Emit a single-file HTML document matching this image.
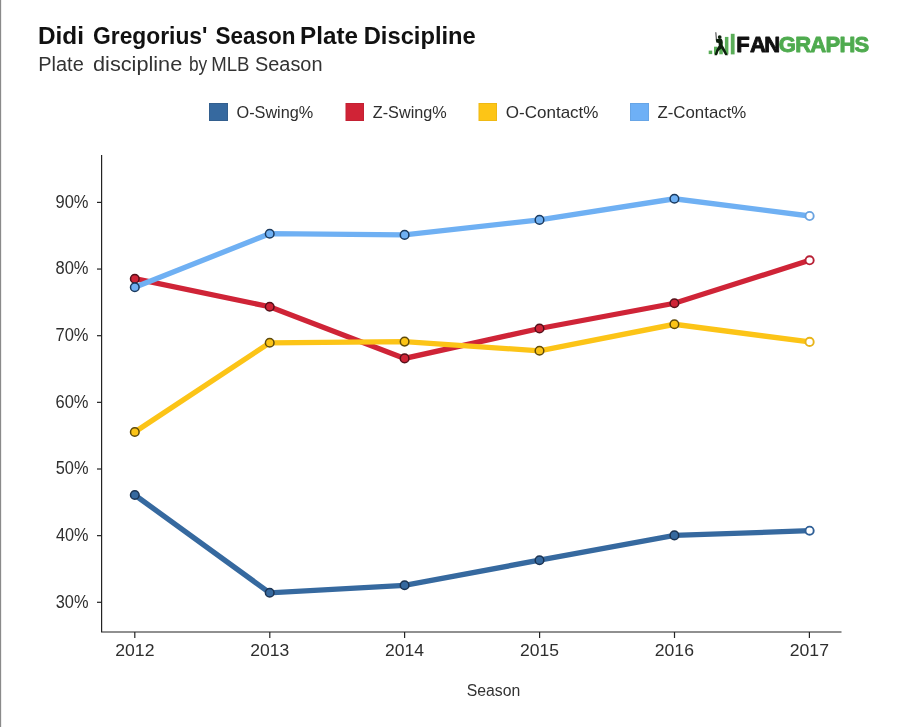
<!DOCTYPE html>
<html><head><meta charset="utf-8"><title>Didi Gregorius' Season Plate Discipline</title>
<style>
html,body{margin:0;padding:0;background:#fff;}
body{width:900px;height:727px;overflow:hidden;position:relative;font-family:"Liberation Sans",sans-serif;}
svg{position:absolute;left:0;top:0;will-change:transform;}
text{font-family:"Liberation Sans",sans-serif;}
</style></head><body>
<svg width="900" height="727" viewBox="0 0 900 727">
<rect x="0" y="0" width="900" height="727" fill="#fff"/>
<rect x="0" y="0" width="1.15" height="727" fill="#8a8a8a"/>
<!-- legend swatches -->
<rect x="209.5" y="103.5" width="18" height="17" fill="#36699f" stroke="#335f8e" stroke-width="1"/>
<rect x="346" y="103.5" width="17.5" height="17" fill="#d02336" stroke="#c32133" stroke-width="1"/>
<rect x="479" y="103.5" width="17.5" height="17" fill="#fdc516" stroke="#efb914" stroke-width="1"/>
<rect x="630.5" y="103.5" width="18" height="17" fill="#6eb0f6" stroke="#67a5e6" stroke-width="1"/>
<!-- logo -->
<g id="logo">
<rect x="708.7" y="50.6" width="3.5" height="3.5" fill="#5aad58"/>
<rect x="714" y="46.7" width="3.6" height="7.6" fill="#5aad58"/>
<rect x="719.3" y="42" width="3.5" height="12.3" fill="#5aad58"/>
<rect x="724.9" y="36.9" width="3.5" height="17.4" fill="#5aad58"/>
<rect x="730.8" y="33.8" width="3.8" height="20.6" fill="#5aad58"/>
<path d="M715.8,32.2 L716.5,40.5" stroke="#555" stroke-width="1.2" fill="none"/>
<circle cx="719.7" cy="37.1" r="1.9" fill="#0d1f0d"/>
<path d="M715.8,39.6 L718,38.8 L721.6,38.8 L722.7,41 L722.4,45 L724,47.5 L727.9,55.3 L725.3,55.3 L721.4,48.6 L718.6,51 L716.9,55.3 L714.5,55.3 L716.4,49.5 L718.8,45.5 L718.5,43 L716.3,42.6 Z" fill="#0d1f0d"/>
<text x="736.3 750 764.2" y="52" font-size="22" font-weight="bold" style="fill:#111;stroke:#111;stroke-width:0.9px;stroke-linejoin:round">FAN</text>
<text x="778.8" y="52" font-size="22" font-weight="bold" style="fill:#4fab4f;stroke:#4fab4f;stroke-width:0.9px;stroke-linejoin:round" textLength="90.5" lengthAdjust="spacing">GRAPHS</text>
</g>
<!-- axes -->
<path d="M101.6,155 V632 H841.5" fill="none" stroke="#232323" stroke-width="1.2"/>
<path d="M97,202.4 H101.6" stroke="#232323" stroke-width="1.2"/>
<path d="M97,269.05 H101.6" stroke="#232323" stroke-width="1.2"/>
<path d="M97,335.7 H101.6" stroke="#232323" stroke-width="1.2"/>
<path d="M97,402.35 H101.6" stroke="#232323" stroke-width="1.2"/>
<path d="M97,469.0 H101.6" stroke="#232323" stroke-width="1.2"/>
<path d="M97,535.65 H101.6" stroke="#232323" stroke-width="1.2"/>
<path d="M97,602.3 H101.6" stroke="#232323" stroke-width="1.2"/>
<path d="M134.8,632 V638" stroke="#232323" stroke-width="1.2"/>
<path d="M269.8,632 V638" stroke="#232323" stroke-width="1.2"/>
<path d="M404.6,632 V638" stroke="#232323" stroke-width="1.2"/>
<path d="M539.6,632 V638" stroke="#232323" stroke-width="1.2"/>
<path d="M674.5,632 V638" stroke="#232323" stroke-width="1.2"/>
<path d="M809.4,632 V638" stroke="#232323" stroke-width="1.2"/>
<!-- marks -->
<polyline points="134.8,495.0 269.7,592.8 404.6,585.3 539.5,560.2 674.4,535.4 809.6,530.7" fill="none" stroke="#36699f" stroke-width="5.3" stroke-linejoin="miter" stroke-linecap="butt"/>
<polyline points="134.8,278.7 269.7,306.7 404.6,358.4 539.5,328.5 674.4,303.3 809.6,260.3" fill="none" stroke="#cf2437" stroke-width="5.3" stroke-linejoin="miter" stroke-linecap="butt"/>
<polyline points="134.8,432.0 269.7,342.8 404.6,341.6 539.5,350.8 674.4,324.3 809.6,341.9" fill="none" stroke="#fcc417" stroke-width="5.3" stroke-linejoin="miter" stroke-linecap="butt"/>
<polyline points="134.8,287.3 269.7,233.7 404.6,234.9 539.5,219.9 674.4,198.8 809.6,216.0" fill="none" stroke="#6fb0f3" stroke-width="5.3" stroke-linejoin="miter" stroke-linecap="butt"/>
<circle cx="134.8" cy="495.0" r="4.3" fill="#36699f" stroke="#1b3352" stroke-width="1.5"/>
<circle cx="269.7" cy="592.8" r="4.3" fill="#36699f" stroke="#1b3352" stroke-width="1.5"/>
<circle cx="404.6" cy="585.3" r="4.3" fill="#36699f" stroke="#1b3352" stroke-width="1.5"/>
<circle cx="539.5" cy="560.2" r="4.3" fill="#36699f" stroke="#1b3352" stroke-width="1.5"/>
<circle cx="674.4" cy="535.4" r="4.3" fill="#36699f" stroke="#1b3352" stroke-width="1.5"/>
<circle cx="809.6" cy="530.7" r="4.1" fill="#fff" stroke="#2f5f96" stroke-width="1.9"/>
<circle cx="134.8" cy="278.7" r="4.3" fill="#cf2437" stroke="#55101a" stroke-width="1.5"/>
<circle cx="269.7" cy="306.7" r="4.3" fill="#cf2437" stroke="#55101a" stroke-width="1.5"/>
<circle cx="404.6" cy="358.4" r="4.3" fill="#cf2437" stroke="#55101a" stroke-width="1.5"/>
<circle cx="539.5" cy="328.5" r="4.3" fill="#cf2437" stroke="#55101a" stroke-width="1.5"/>
<circle cx="674.4" cy="303.3" r="4.3" fill="#cf2437" stroke="#55101a" stroke-width="1.5"/>
<circle cx="809.6" cy="260.3" r="4.1" fill="#fff" stroke="#b82035" stroke-width="1.9"/>
<circle cx="134.8" cy="432.0" r="4.3" fill="#fcc417" stroke="#5f4a0a" stroke-width="1.5"/>
<circle cx="269.7" cy="342.8" r="4.3" fill="#fcc417" stroke="#5f4a0a" stroke-width="1.5"/>
<circle cx="404.6" cy="341.6" r="4.3" fill="#fcc417" stroke="#5f4a0a" stroke-width="1.5"/>
<circle cx="539.5" cy="350.8" r="4.3" fill="#fcc417" stroke="#5f4a0a" stroke-width="1.5"/>
<circle cx="674.4" cy="324.3" r="4.3" fill="#fcc417" stroke="#5f4a0a" stroke-width="1.5"/>
<circle cx="809.6" cy="341.9" r="4.1" fill="#fff" stroke="#e8b41a" stroke-width="1.9"/>
<circle cx="134.8" cy="287.3" r="4.3" fill="#6fb0f3" stroke="#1b3a5e" stroke-width="1.5"/>
<circle cx="269.7" cy="233.7" r="4.3" fill="#6fb0f3" stroke="#1b3a5e" stroke-width="1.5"/>
<circle cx="404.6" cy="234.9" r="4.3" fill="#6fb0f3" stroke="#1b3a5e" stroke-width="1.5"/>
<circle cx="539.5" cy="219.9" r="4.3" fill="#6fb0f3" stroke="#1b3a5e" stroke-width="1.5"/>
<circle cx="674.4" cy="198.8" r="4.3" fill="#6fb0f3" stroke="#1b3a5e" stroke-width="1.5"/>
<circle cx="809.6" cy="216.0" r="4.1" fill="#fff" stroke="#6aa3e0" stroke-width="1.9"/>
<!-- text -->
<text id="t1" x="38.00" y="43.8" font-size="23" font-weight="bold" style="fill:#111" textLength="46.00" lengthAdjust="spacingAndGlyphs">Didi</text>
<text id="t2" x="93.00" y="43.8" font-size="23" font-weight="bold" style="fill:#111" textLength="114.50" lengthAdjust="spacingAndGlyphs">Gregorius&#39;</text>
<text id="t3" x="215.50" y="43.8" font-size="23" font-weight="bold" style="fill:#111" textLength="80.00" lengthAdjust="spacingAndGlyphs">Season</text>
<text id="t4" x="300.00" y="43.8" font-size="23" font-weight="bold" style="fill:#111" textLength="58.00" lengthAdjust="spacingAndGlyphs">Plate</text>
<text id="t5" x="363.75" y="43.8" font-size="23" font-weight="bold" style="fill:#111" textLength="112.00" lengthAdjust="spacingAndGlyphs">Discipline</text>
<text id="s1" x="38.25" y="70.6" font-size="20" style="fill:#333" textLength="45.50" lengthAdjust="spacingAndGlyphs">Plate</text>
<text id="s2" x="93.00" y="70.6" font-size="20" style="fill:#333" textLength="89.25" lengthAdjust="spacingAndGlyphs">discipline</text>
<text id="s3" x="189.00" y="70.6" font-size="20" style="fill:#333" textLength="18.25" lengthAdjust="spacingAndGlyphs">by</text>
<text id="s4" x="211.25" y="70.6" font-size="20" style="fill:#333" textLength="38.25" lengthAdjust="spacingAndGlyphs">MLB</text>
<text id="s5" x="255.00" y="70.6" font-size="20" style="fill:#333" textLength="67.50" lengthAdjust="spacingAndGlyphs">Season</text>
<text id="l1" x="236.50" y="117.7" font-size="17" style="fill:#2e2e2e" textLength="76.75" lengthAdjust="spacingAndGlyphs">O-Swing%</text>
<text id="l2" x="372.75" y="117.7" font-size="17" style="fill:#2e2e2e" textLength="74.00" lengthAdjust="spacingAndGlyphs">Z-Swing%</text>
<text id="l3" x="505.75" y="117.7" font-size="17" style="fill:#2e2e2e" textLength="92.75" lengthAdjust="spacingAndGlyphs">O-Contact%</text>
<text id="l4" x="657.50" y="117.7" font-size="17" style="fill:#2e2e2e" textLength="88.75" lengthAdjust="spacingAndGlyphs">Z-Contact%</text>
<text id="ax" x="466.75" y="696" font-size="16" style="fill:#333" textLength="53.50" lengthAdjust="spacingAndGlyphs">Season</text>
<text id="y90" x="55.50" y="207.70000000000002" font-size="17.5" style="fill:#2e2e2e" textLength="33.00" lengthAdjust="spacingAndGlyphs">90%</text>
<text id="y80" x="55.50" y="274.35" font-size="17.5" style="fill:#2e2e2e" textLength="33.00" lengthAdjust="spacingAndGlyphs">80%</text>
<text id="y70" x="55.50" y="341.0" font-size="17.5" style="fill:#2e2e2e" textLength="33.00" lengthAdjust="spacingAndGlyphs">70%</text>
<text id="y60" x="55.50" y="407.65000000000003" font-size="17.5" style="fill:#2e2e2e" textLength="33.00" lengthAdjust="spacingAndGlyphs">60%</text>
<text id="y50" x="55.75" y="474.3" font-size="17.5" style="fill:#2e2e2e" textLength="32.75" lengthAdjust="spacingAndGlyphs">50%</text>
<text id="y40" x="56.00" y="540.9499999999999" font-size="17.5" style="fill:#2e2e2e" textLength="32.50" lengthAdjust="spacingAndGlyphs">40%</text>
<text id="y30" x="55.75" y="607.5999999999999" font-size="17.5" style="fill:#2e2e2e" textLength="32.75" lengthAdjust="spacingAndGlyphs">30%</text>
<text id="x0" x="115.25" y="656.1" font-size="17" style="fill:#2e2e2e" textLength="39.25" lengthAdjust="spacingAndGlyphs">2012</text>
<text id="x1" x="250.25" y="656.1" font-size="17" style="fill:#2e2e2e" textLength="39.00" lengthAdjust="spacingAndGlyphs">2013</text>
<text id="x2" x="385.00" y="656.1" font-size="17" style="fill:#2e2e2e" textLength="39.00" lengthAdjust="spacingAndGlyphs">2014</text>
<text id="x3" x="520.00" y="656.1" font-size="17" style="fill:#2e2e2e" textLength="39.00" lengthAdjust="spacingAndGlyphs">2015</text>
<text id="x4" x="654.75" y="656.1" font-size="17" style="fill:#2e2e2e" textLength="39.25" lengthAdjust="spacingAndGlyphs">2016</text>
<text id="x5" x="789.75" y="656.1" font-size="17" style="fill:#2e2e2e" textLength="39.25" lengthAdjust="spacingAndGlyphs">2017</text>
</svg>
</body></html>
